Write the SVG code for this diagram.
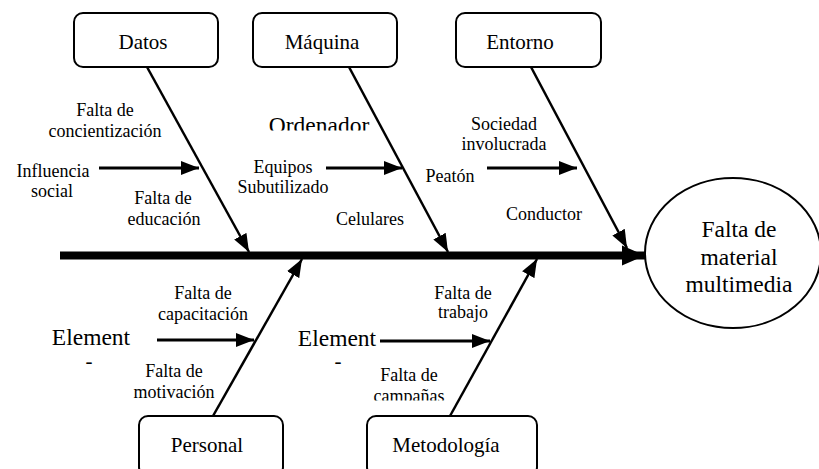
<svg xmlns="http://www.w3.org/2000/svg" width="819" height="469" viewBox="0 0 819 469">
<style>
text{font-family:'Liberation Serif','Times New Roman',serif;fill:#000;text-anchor:middle}
.s{font-size:18px}
.b{font-size:21px}
.l{font-size:23.5px}
.box{fill:#fff;stroke:#000;stroke-width:2}
.bone{stroke:#000;stroke-width:2.5;fill:none}
.spine{stroke:#000;stroke-width:8;fill:none}
.harr{stroke:#000;stroke-width:3;fill:none}
</style>
<defs>
<marker id="ah" markerUnits="userSpaceOnUse" markerWidth="20" markerHeight="16" viewBox="0 -8 20 16" refX="18" refY="0" orient="auto">
<path d="M0,-7 L18,0 L0,7 z" fill="#000"/>
</marker>
<marker id="ahs" markerUnits="userSpaceOnUse" markerWidth="26" markerHeight="24" viewBox="0 -12 26 24" refX="23" refY="0" orient="auto">
<path d="M0,-10 L23,0 L0,10 z" fill="#000"/>
</marker>
<clipPath id="c1"><rect x="0" y="0" width="819" height="130.5"/></clipPath>
<clipPath id="c2"><rect x="0" y="0" width="819" height="400.5"/></clipPath>
</defs>
<g id="connectors">
<line class="spine" x1="60" y1="255.5" x2="645" y2="255.5" marker-end="url(#ahs)"/>
<line class="bone" x1="147" y1="67" x2="249" y2="252" marker-end="url(#ah)"/>
<line class="bone" x1="349" y1="67" x2="448" y2="252" marker-end="url(#ah)"/>
<line class="bone" x1="531" y1="67" x2="627" y2="248" marker-end="url(#ah)"/>
<line class="bone" x1="213" y1="416" x2="302" y2="259" marker-end="url(#ah)"/>
<line class="bone" x1="450" y1="416" x2="537" y2="259" marker-end="url(#ah)"/>
<line class="harr" x1="99" y1="168" x2="199" y2="168" marker-end="url(#ah)"/>
<line class="harr" x1="326" y1="168" x2="402" y2="168" marker-end="url(#ah)"/>
<line class="harr" x1="487" y1="168" x2="577" y2="168" marker-end="url(#ah)"/>
<line class="harr" x1="157" y1="340" x2="254" y2="340" marker-end="url(#ah)"/>
<line class="harr" x1="380" y1="341" x2="490" y2="341" marker-end="url(#ah)"/>
</g>
<g id="datos"><rect class="box" x="74" y="13" width="144" height="54" rx="9"/><text class="b" x="143" y="49">Datos</text></g>
<g id="maquina"><rect class="box" x="253" y="13" width="144" height="54" rx="9"/><text class="b" x="322" y="49">Máquina</text></g>
<g id="entorno"><rect class="box" x="456" y="13" width="145" height="54" rx="9"/><text class="b" x="520" y="49">Entorno</text></g>
<g id="personal"><rect class="box" x="139" y="416" width="144" height="60" rx="9"/><text class="b" x="207" y="452">Personal</text></g>
<g id="metodologia"><rect class="box" x="367" y="416" width="170" height="60" rx="9"/><text class="b" x="446" y="452">Metodología</text></g>
<g id="efecto"><ellipse cx="733" cy="253" rx="88" ry="75" fill="#fff" stroke="#000" stroke-width="2"/>
<text class="l" x="739" y="237">Falta de</text><text class="l" x="739" y="265">material</text><text class="l" x="739" y="292">multimedia</text></g>
<g id="labels">
<text class="s" x="105" y="116">Falta de</text><text class="s" x="105" y="137">concientización</text>
<text class="s" x="53" y="177">Influencia</text><text class="s" x="52" y="197">social</text>
<text class="s" x="163" y="204">Falta de</text><text class="s" x="164" y="225">educación</text>
<text class="l" x="319" y="133" clip-path="url(#c1)">Ordenador</text>
<text class="s" x="283" y="173">Equipos</text><text class="s" x="283" y="193">Subutilizado</text>
<text class="s" x="370" y="225">Celulares</text>
<text class="s" x="504" y="130">Sociedad</text><text class="s" x="504" y="150">involucrada</text>
<text class="s" x="450" y="182">Peatón</text>
<text class="s" x="544" y="220">Conductor</text>
<text class="s" x="203" y="299">Falta de</text><text class="s" x="203" y="320">capacitación</text>
<text class="l" x="91" y="345">Element</text><text class="b" x="89" y="368">-</text>
<text class="s" x="174" y="377">Falta de</text><text class="s" x="174" y="398">motivación</text>
<text class="l" x="337" y="346">Element</text><text class="b" x="338" y="368">-</text>
<text class="s" x="463" y="299">Falta de</text><text class="s" x="463" y="318">trabajo</text>
<text class="s" x="409" y="381">Falta de</text><text class="s" x="409" y="402" clip-path="url(#c2)">campañas</text>
</g>
</svg>
